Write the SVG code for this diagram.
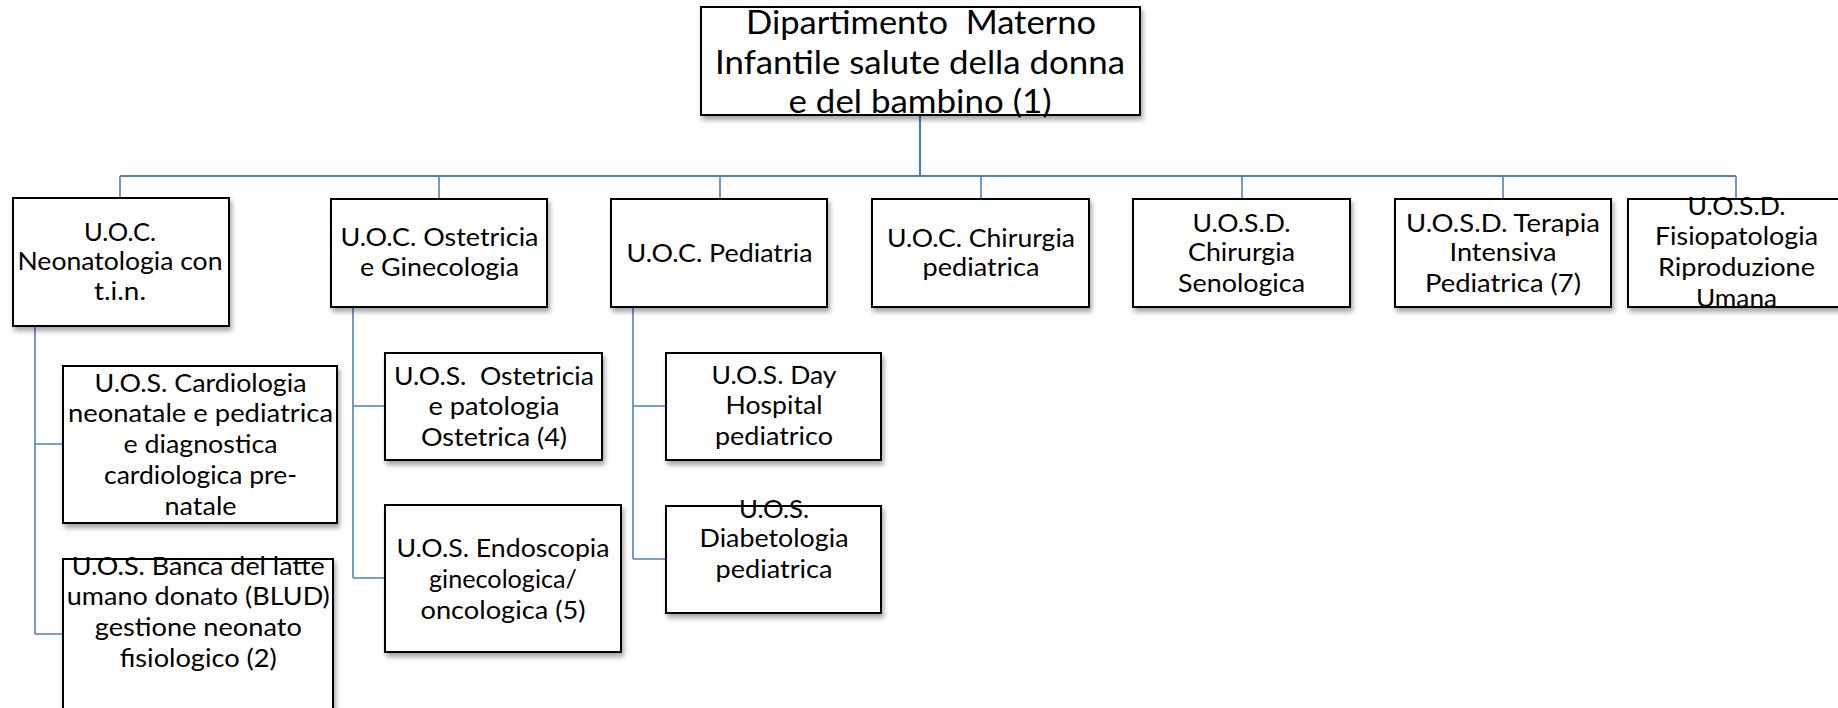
<svg xmlns="http://www.w3.org/2000/svg" width="1838" height="708" viewBox="0 0 1838 708" xml:space="preserve">
<style>
  .box { fill: #ffffff; stroke: #000000; stroke-width: 2; filter: url(#sh); }
  text { font-family: Lato, "Liberation Sans", sans-serif; fill: #000000; text-anchor: middle; white-space: pre; }
  .t { font-size: 25px; }
  .tt { font-size: 33px; }
  .c { fill: none; stroke: #4f81bd; stroke-width: 1.6; }
  .cm { fill: none; stroke: #4f81bd; stroke-width: 2.2; }
</style>
<defs>
  <filter id="sh" x="-10%" y="-10%" width="130%" height="130%">
    <feDropShadow dx="2" dy="4" stdDeviation="2.5" flood-color="#000000" flood-opacity="0.35"/>
  </filter>
</defs>
<rect width="1838" height="708" fill="#ffffff"/>
<g id="connectors">
  <path class="cm" d="M920 115 V176 M120 176 H1736"/>
  <path class="c" d="M120 176 V198 M439 176 V199 M720 176 V199 M981 176 V199 M1242 176 V199 M1503 176 V199 M1736 176 V199"/>
  <path class="c" d="M35 326 V634 M35 444 H63 M35 634 H63"/>
  <path class="c" d="M353 307 V578 M353 406 H385 M353 578 H385"/>
  <path class="c" d="M633 307 V559 M633 406 H666 M633 559 H666"/>
</g>
<g id="n-dip">
  <rect class="box" x="701" y="7" width="439" height="108"/>
  <text class="tt" x="921" y="34" textLength="350" lengthAdjust="spacingAndGlyphs">Dipartimento  Materno</text>
  <text class="tt" x="920" y="74" textLength="410" lengthAdjust="spacingAndGlyphs">Infantile salute della donna</text>
  <text class="tt" x="920" y="113" textLength="263" lengthAdjust="spacingAndGlyphs">e del bambino (1)</text>
</g>
<g id="n-neo">
  <rect class="box" x="13" y="198" width="216" height="128"/>
  <text class="t" x="120" y="241" textLength="72" lengthAdjust="spacingAndGlyphs">U.O.C.</text>
  <text class="t" x="120" y="270" textLength="205" lengthAdjust="spacingAndGlyphs">Neonatologia con</text>
  <text class="t" x="120" y="300" textLength="52" lengthAdjust="spacingAndGlyphs">t.i.n.</text>
</g>
<g id="n-ost">
  <rect class="box" x="331" y="199" width="216" height="108"/>
  <text class="t" x="439.5" y="246" textLength="198" lengthAdjust="spacingAndGlyphs">U.O.C. Ostetricia</text>
  <text class="t" x="439.5" y="276" textLength="159" lengthAdjust="spacingAndGlyphs">e Ginecologia</text>
</g>
<g id="n-ped">
  <rect class="box" x="611" y="199" width="216" height="108"/>
  <text class="t" x="719.5" y="262" textLength="186" lengthAdjust="spacingAndGlyphs">U.O.C. Pediatria</text>
</g>
<g id="n-chir">
  <rect class="box" x="872" y="199" width="217" height="108"/>
  <text class="t" x="981" y="247" textLength="188" lengthAdjust="spacingAndGlyphs">U.O.C. Chirurgia</text>
  <text class="t" x="981" y="276" textLength="117" lengthAdjust="spacingAndGlyphs">pediatrica</text>
</g>
<g id="n-seno">
  <rect class="box" x="1133" y="199" width="217" height="108"/>
  <text class="t" x="1241.5" y="232" textLength="98" lengthAdjust="spacingAndGlyphs">U.O.S.D.</text>
  <text class="t" x="1241.5" y="261" textLength="107" lengthAdjust="spacingAndGlyphs">Chirurgia</text>
  <text class="t" x="1241.5" y="292" textLength="127" lengthAdjust="spacingAndGlyphs">Senologica</text>
</g>
<g id="n-tip">
  <rect class="box" x="1395" y="199" width="216" height="108"/>
  <text class="t" x="1503" y="232" textLength="194" lengthAdjust="spacingAndGlyphs">U.O.S.D. Terapia</text>
  <text class="t" x="1503" y="261" textLength="107" lengthAdjust="spacingAndGlyphs">Intensiva</text>
  <text class="t" x="1503" y="292" textLength="156" lengthAdjust="spacingAndGlyphs">Pediatrica (7)</text>
</g>
<g id="n-fisio">
  <rect class="box" x="1628" y="199" width="216" height="108"/>
  <text class="t" x="1736.5" y="215" textLength="98" lengthAdjust="spacingAndGlyphs">U.O.S.D.</text>
  <text class="t" x="1736.5" y="245" textLength="163" lengthAdjust="spacingAndGlyphs">Fisiopatologia</text>
  <text class="t" x="1736.5" y="276" textLength="157" lengthAdjust="spacingAndGlyphs">Riproduzione</text>
  <text class="t" x="1736.5" y="307" textLength="81" lengthAdjust="spacingAndGlyphs">Umana</text>
</g>
<g id="n-card">
  <rect class="box" x="63" y="366" width="274" height="157"/>
  <text class="t" x="200.5" y="392" textLength="212" lengthAdjust="spacingAndGlyphs">U.O.S. Cardiologia</text>
  <text class="t" x="200.5" y="422" textLength="265" lengthAdjust="spacingAndGlyphs">neonatale e pediatrica</text>
  <text class="t" x="200.5" y="453" textLength="154" lengthAdjust="spacingAndGlyphs">e diagnostica</text>
  <text class="t" x="200.5" y="484" textLength="193" lengthAdjust="spacingAndGlyphs">cardiologica pre-</text>
  <text class="t" x="200.5" y="515" textLength="72" lengthAdjust="spacingAndGlyphs">natale</text>
</g>
<g id="n-banca">
  <rect class="box" x="63" y="559" width="270" height="170"/>
  <text class="t" x="198.3" y="575" textLength="253" lengthAdjust="spacingAndGlyphs">U.O.S. Banca del latte</text>
  <text class="t" x="198.3" y="605" textLength="263" lengthAdjust="spacingAndGlyphs">umano donato (BLUD)</text>
  <text class="t" x="198.3" y="636" textLength="207" lengthAdjust="spacingAndGlyphs">gestione neonato</text>
  <text class="t" x="198.3" y="667" textLength="157" lengthAdjust="spacingAndGlyphs">fisiologico (2)</text>
</g>
<g id="n-uosost">
  <rect class="box" x="385" y="353" width="217" height="107"/>
  <text class="t" x="494" y="385" textLength="200" lengthAdjust="spacingAndGlyphs">U.O.S.  Ostetricia</text>
  <text class="t" x="494" y="415" textLength="131" lengthAdjust="spacingAndGlyphs">e patologia</text>
  <text class="t" x="494" y="446" textLength="146" lengthAdjust="spacingAndGlyphs">Ostetrica (4)</text>
</g>
<g id="n-endo">
  <rect class="box" x="385" y="505" width="236" height="147"/>
  <text class="t" x="503" y="557" textLength="213" lengthAdjust="spacingAndGlyphs">U.O.S. Endoscopia</text>
  <text class="t" x="503" y="588" textLength="148" lengthAdjust="spacingAndGlyphs">ginecologica/</text>
  <text class="t" x="503" y="619" textLength="165" lengthAdjust="spacingAndGlyphs">oncologica (5)</text>
</g>
<g id="n-dh">
  <rect class="box" x="666" y="353" width="215" height="107"/>
  <text class="t" x="774" y="384" textLength="125" lengthAdjust="spacingAndGlyphs">U.O.S. Day</text>
  <text class="t" x="774" y="414" textLength="97" lengthAdjust="spacingAndGlyphs">Hospital</text>
  <text class="t" x="774" y="445" textLength="118" lengthAdjust="spacingAndGlyphs">pediatrico</text>
</g>
<g id="n-diab">
  <rect class="box" x="666" y="506" width="215" height="107"/>
  <text class="t" x="774" y="518" textLength="70" lengthAdjust="spacingAndGlyphs">U.O.S.</text>
  <text class="t" x="774" y="547" textLength="149" lengthAdjust="spacingAndGlyphs">Diabetologia</text>
  <text class="t" x="774" y="578" textLength="117" lengthAdjust="spacingAndGlyphs">pediatrica</text>
</g>
</svg>
